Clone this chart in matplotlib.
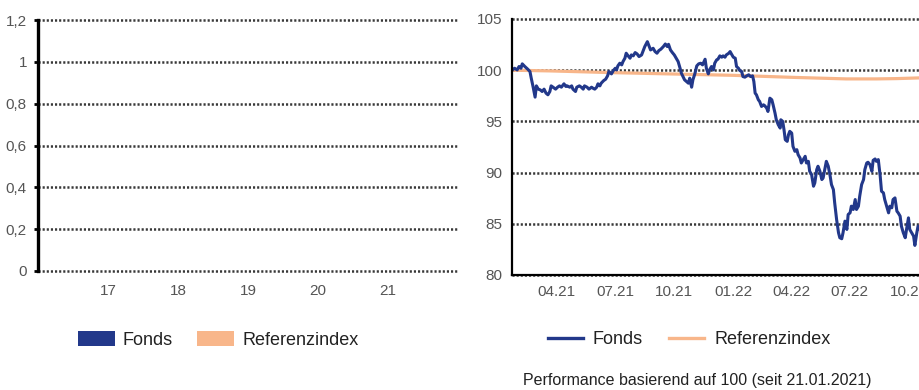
import matplotlib
matplotlib.use("Agg")
import matplotlib.pyplot as plt
import matplotlib.dates as mdates
from matplotlib.lines import Line2D
from matplotlib.ticker import FixedLocator, FuncFormatter, NullFormatter
import numpy as np
import pandas as pd

plt.rcParams["font.family"] = ["Liberation Sans", "DejaVu Sans"]

# ---- calendar-year returns (no values published yet) ----
years = [17, 18, 19, 20, 21]
fonds_yearly = [np.nan, np.nan, np.nan, np.nan, np.nan]
ref_yearly = [np.nan, np.nan, np.nan, np.nan, np.nan]
left_yticks = [0, 0.2, 0.4, 0.6, 0.8, 1.0, 1.2]

# ---- indexed performance since 21.01.2021 (days after start, index level) ----
start_date = "2021-01-21"
fonds_days = [
    0, 4, 8, 11, 14, 16, 20, 24, 28, 30, 33, 36, 38, 41, 44, 47, 50, 53, 56, 59,
    61, 64, 68, 71, 74, 77, 81, 84, 86, 90, 93, 95, 99, 101, 105, 108, 111, 113, 117, 120,
    124, 126, 129, 132, 134, 137, 139, 143, 146, 149, 151, 155, 158, 161, 163, 165, 168, 171, 173, 176,
    178, 181, 184, 186, 189, 192, 195, 198, 202, 204, 207, 211, 214, 216, 220, 223, 226, 229, 232, 236,
    239, 242, 244, 247, 250, 253, 256, 259, 262, 264, 267, 269, 272, 275, 277, 280, 282, 285, 288, 291,
    294, 297, 301, 303, 306, 308, 311, 314, 316, 319, 321, 324, 327, 329, 332, 334, 338, 340, 342, 345,
    348, 350, 353, 355, 358, 360, 363, 366, 369, 372, 375, 377, 379, 381, 384, 386, 389, 392, 394, 397,
    399, 402, 405, 407, 410, 412, 415, 418, 419, 422, 424, 426, 429, 431, 433, 436, 438, 441, 444, 446,
    449, 451, 454, 457, 459, 462, 464, 467, 470, 472, 475, 477, 480, 483, 485, 488, 490, 493, 496, 498,
    501, 503, 506, 509, 511, 514, 516, 519, 522, 524, 527, 529, 532, 535, 537, 540, 542, 545, 548, 550,
    553, 555, 558, 561, 563, 566, 568, 571, 574, 576, 579, 581, 584, 587, 589, 592, 594, 597, 600, 602,
    605, 607, 610, 613, 615, 618, 620, 623, 626, 628, 631, 633, 636,
]
fonds_values = [
    100.00, 100.19, 100.03, 100.36, 100.19, 100.62, 100.36, 100.13, 99.87, 99.22,
    98.34, 97.37, 98.47, 98.15, 98.08, 97.92, 98.15, 97.76, 97.60, 97.92,
    98.47, 98.34, 98.15, 98.34, 98.47, 98.34, 98.67, 98.41, 98.47, 98.34,
    98.47, 98.15, 97.92, 98.34, 98.47, 98.34, 98.15, 98.47, 98.34, 98.15,
    98.34, 98.25, 98.15, 98.34, 98.67, 98.47, 98.73, 98.99, 99.12, 99.45,
    99.87, 99.64, 99.97, 100.19, 100.03, 100.42, 100.68, 100.52, 100.84, 101.17,
    101.66, 101.40, 101.17, 101.49, 101.40, 101.72, 101.59, 101.33, 101.49, 101.82,
    102.31, 102.79, 102.31, 101.98, 102.14, 101.82, 101.66, 101.92, 102.05, 102.31,
    102.56, 102.31, 102.53, 101.98, 101.72, 101.49, 101.17, 100.84, 100.19, 99.71,
    99.32, 99.06, 98.90, 98.73, 99.22, 98.34, 99.06, 99.64, 100.42, 100.62,
    100.68, 100.52, 101.07, 100.19, 99.64, 100.03, 100.36, 100.03, 100.68, 101.01,
    101.07, 101.40, 101.27, 101.40, 101.27, 101.49, 101.66, 101.82, 101.59, 101.27,
    101.17, 100.36, 100.19, 99.97, 99.87, 99.38, 99.32, 99.45, 99.55, 99.38,
    99.45, 98.90, 97.76, 97.60, 97.11, 96.95, 96.46, 96.62, 96.53, 96.30,
    95.97, 97.27, 97.11, 96.62, 95.81, 95.16, 94.68, 94.35, 95.16, 95.00,
    94.19, 93.21, 93.05, 93.70, 94.03, 93.86, 92.56, 92.08, 92.24, 91.75,
    91.43, 90.94, 91.27, 91.59, 90.94, 91.10, 90.13, 89.81, 88.67, 88.99,
    90.29, 90.62, 90.13, 89.32, 89.48, 90.45, 91.10, 90.62, 89.64, 88.83,
    88.34, 87.05, 85.42, 84.12, 83.64, 83.54, 84.12, 85.26, 84.45, 85.91,
    86.07, 86.72, 86.40, 87.37, 86.40, 86.72, 87.69, 88.83, 89.32, 90.29,
    90.94, 91.01, 90.78, 90.13, 91.20, 91.33, 91.10, 91.27, 89.64, 88.18,
    88.02, 87.37, 86.72, 86.07, 86.72, 86.56, 87.37, 87.53, 86.23, 86.07,
    85.75, 84.77, 84.12, 83.64, 84.45, 85.58, 84.45, 84.12, 83.80, 82.89,
    84.12, 84.77, 84.45,
]
ref_days = [0, 60, 152, 250, 345, 438, 521, 568, 600, 636]
ref_values = [100.00, 99.93, 99.77, 99.63, 99.50, 99.30, 99.15, 99.15, 99.18, 99.25]

right_yticks = [80, 85, 90, 95, 100, 105]
right_xticks = ["2021-04-01", "2021-07-01", "2021-10-01", "2022-01-01",
                "2022-04-01", "2022-07-01", "2022-10-01"]
year_marks = ["2022-01-01"]
plot_span_days = 636

NAVY = "#22388a"
ORANGE = "#f8b68a"
GRID = "#383838"
TICKTXT = "#555555"
TXT = "#222222"

fig = plt.figure(figsize=(9.2, 3.9), dpi=100)

grid_kw = dict(color=GRID, linestyle=(0, (0.85, 0.8)), linewidth=1.8,
               dash_capstyle="butt")


def unclip_grid(ax):
    # keep the outermost dotted lines at full thickness on the axes border
    for gl in ax.get_ygridlines():
        gl.set_clip_on(False)


# ---------------- left panel: calendar-year bars ----------------
axl = fig.add_axes([38 / 920, 1 - 271 / 390, 420 / 920, 251 / 390])
bw = 0.35
b1 = axl.bar(np.array(years) - bw / 2, fonds_yearly, width=bw, color=NAVY, label="Fonds")
b2 = axl.bar(np.array(years) + bw / 2, ref_yearly, width=bw, color=ORANGE, label="Referenzindex")
axl.set_xlim(16, 22)
axl.set_ylim(0, 1.2)
axl.set_xticks(years)
axl.set_xticklabels([str(y) for y in years])
axl.yaxis.set_major_locator(FixedLocator(left_yticks))
axl.yaxis.set_major_formatter(
    FuncFormatter(lambda v, p: ("%g" % round(v, 1)).replace(".", ",")))
axl.yaxis.grid(True, **grid_kw)
axl.set_axisbelow(True)
for s in ("top", "right", "bottom"):
    axl.spines[s].set_visible(False)
axl.spines["left"].set_linewidth(2.4)
axl.spines["left"].set_color("black")
axl.tick_params(axis="y", length=3, width=2, color="black", pad=5,
                labelsize=11, labelcolor=TICKTXT)
axl.tick_params(axis="x", length=0, pad=9.5, labelsize=11, labelcolor=TICKTXT)

fig.legend(handles=[b1, b2], loc="center left",
           bbox_to_anchor=(78 / 920, 1 - 340 / 390), ncol=2, frameon=False,
           fontsize=13, handlelength=2.05, handleheight=0.9, handletextpad=0.44,
           columnspacing=1.33, borderpad=0, borderaxespad=0, labelcolor=TXT)

# ---------------- right panel: indexed performance ----------------
t0 = pd.Timestamp(start_date)
fonds_dates = t0 + pd.to_timedelta(fonds_days, unit="D")
ref_dates = t0 + pd.to_timedelta(ref_days, unit="D")

axr = fig.add_axes([512 / 920, 1 - 275 / 390, 408 / 920, 256 / 390])
axr.plot(ref_dates, ref_values, color=ORANGE, linewidth=2.3, solid_capstyle="butt")
axr.plot(fonds_dates, fonds_values, color=NAVY, linewidth=2.2, solid_joinstyle="round")
axr.set_xlim(t0, t0 + pd.Timedelta(days=plot_span_days))
axr.set_ylim(80, 105)
axr.yaxis.set_major_locator(FixedLocator(right_yticks))
axr.xaxis.set_major_locator(FixedLocator(mdates.date2num(pd.to_datetime(right_xticks))))
axr.xaxis.set_major_formatter(mdates.DateFormatter("%m.%y"))
axr.xaxis.set_minor_locator(FixedLocator(mdates.date2num(pd.to_datetime(year_marks))))
axr.xaxis.set_minor_formatter(NullFormatter())
axr.yaxis.grid(True, **grid_kw)
axr.set_axisbelow(True)
for s in ("top", "right"):
    axr.spines[s].set_visible(False)
for s in ("left", "bottom"):
    axr.spines[s].set_linewidth(1.6)
    axr.spines[s].set_color("black")
axr.tick_params(axis="y", length=0, pad=7, labelsize=11, labelcolor=TICKTXT)
axr.tick_params(axis="x", which="major", length=0, pad=7.5, labelsize=11,
                labelcolor=TICKTXT)
axr.tick_params(axis="x", which="minor", length=3, width=1, color="black")

leg_lines = [Line2D([], [], color=NAVY, linewidth=2.4),
             Line2D([], [], color=ORANGE, linewidth=2.4)]
fig.legend(handles=leg_lines, labels=["Fonds", "Referenzindex"], loc="center left",
           bbox_to_anchor=(548 / 920, 1 - 340 / 390), ncol=2, frameon=False,
           fontsize=13, handlelength=1.94, handletextpad=0.55, columnspacing=1.44,
           borderpad=0, borderaxespad=0, labelcolor=TXT)

fig.text(523 / 920, 1 - 380 / 390, "Performance basierend auf 100 (seit 21.01.2021)",
         ha="left", va="center", fontsize=11.5, color=TXT)

fig.canvas.draw()
unclip_grid(axl)
unclip_grid(axr)

fig.savefig("out.png", dpi=100)
